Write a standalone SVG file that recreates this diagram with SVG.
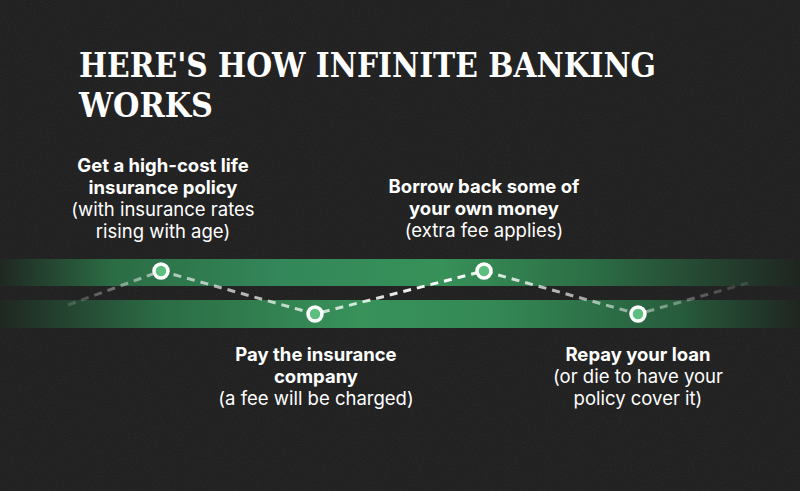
<svg xmlns="http://www.w3.org/2000/svg" width="800" height="491" viewBox="0 0 800 491">
<defs>
<filter id="noise" x="0" y="0" width="100%" height="100%">
<feTurbulence type="fractalNoise" baseFrequency="0.9" numOctaves="2" seed="3" result="n"/>
<feColorMatrix type="matrix" values="0 0 0 0 1  0 0 0 0 1  0 0 0 0 1  0 0 0 0.06 0"/>
</filter>
<linearGradient id="bandTop" x1="0" y1="0" x2="800" y2="0" gradientUnits="userSpaceOnUse">
<stop offset="0" stop-color="#1f2721"/>
<stop offset="0.14" stop-color="#2b6c44"/>
<stop offset="0.35" stop-color="#33875a"/>
<stop offset="0.55" stop-color="#379158"/>
<stop offset="0.75" stop-color="#2b6b44"/>
<stop offset="1" stop-color="#1f2520"/>
</linearGradient>
<linearGradient id="bandBot" x1="0" y1="0" x2="800" y2="0" gradientUnits="userSpaceOnUse">
<stop offset="0" stop-color="#1f2721"/>
<stop offset="0.2" stop-color="#2b6c45"/>
<stop offset="0.45" stop-color="#38925a"/>
<stop offset="0.62" stop-color="#348855"/>
<stop offset="0.85" stop-color="#275c3c"/>
<stop offset="1" stop-color="#1f2520"/>
</linearGradient>
<linearGradient id="dash" x1="60" y1="0" x2="750" y2="0" gradientUnits="userSpaceOnUse">
<stop offset="0" stop-color="#ffffff" stop-opacity="0.1"/>
<stop offset="0.15" stop-color="#ffffff" stop-opacity="0.6"/>
<stop offset="0.4" stop-color="#ffffff" stop-opacity="0.75"/>
<stop offset="0.55" stop-color="#ffffff" stop-opacity="1"/>
<stop offset="0.7" stop-color="#ffffff" stop-opacity="0.7"/>
<stop offset="0.85" stop-color="#ffffff" stop-opacity="0.45"/>
<stop offset="1" stop-color="#ffffff" stop-opacity="0.1"/>
</linearGradient>
</defs>
<style>
.title{font-family:"DejaVu Serif","Liberation Serif",serif;font-weight:bold;font-size:34px;fill:#ffffff}
.b{font-family:Inter,"Noto Sans",sans-serif;font-weight:700;font-size:18.5px;fill:#ffffff;text-anchor:middle}
.r{font-family:Inter,"Noto Sans",sans-serif;font-weight:400;font-size:18.5px;fill:#ffffff;text-anchor:middle}
.node circle{fill:#5cbf80;stroke:#ffffff;stroke-width:3.5}
</style>
<rect width="800" height="491" fill="#1c1c1c"/>
<rect width="800" height="491" filter="url(#noise)"/>
<g id="title">
<text class="title" x="79" y="77" textLength="577" lengthAdjust="spacingAndGlyphs">HERE'S HOW INFINITE BANKING</text>
<text class="title" x="79" y="117" textLength="134" lengthAdjust="spacingAndGlyphs">WORKS</text>
</g>
<g id="bands">
<rect x="0" y="259" width="800" height="27" fill="url(#bandTop)"/>
<rect x="0" y="300" width="800" height="28" fill="url(#bandBot)"/>
</g>
<g id="connectors">
<polyline points="68,305 161,271 315,314 484,271 638,314 748,283" fill="none" stroke="url(#dash)" stroke-width="3" stroke-dasharray="8,6"/>
</g>
<g id="node1" class="node">
<circle cx="161" cy="271" r="7"/>
<text class="b" x="163" y="172">Get a high-cost life</text>
<text class="b" x="163" y="194">insurance policy</text>
<text class="r" x="163" y="216">(with insurance rates</text>
<text class="r" x="163" y="238">rising with age)</text>
</g>
<g id="node2" class="node">
<circle cx="315" cy="314" r="7"/>
<text class="b" x="316" y="361">Pay the insurance</text>
<text class="b" x="316" y="383">company</text>
<text class="r" x="316" y="405">(a fee will be charged)</text>
</g>
<g id="node3" class="node">
<circle cx="484" cy="271" r="7"/>
<text class="b" x="484" y="193">Borrow back some of</text>
<text class="b" x="484" y="215">your own money</text>
<text class="r" x="484" y="237">(extra fee applies)</text>
</g>
<g id="node4" class="node">
<circle cx="638" cy="314" r="7"/>
<text class="b" x="638" y="361">Repay your loan</text>
<text class="r" x="638" y="383">(or die to have your</text>
<text class="r" x="638" y="405">policy cover it)</text>
</g>
</svg>
